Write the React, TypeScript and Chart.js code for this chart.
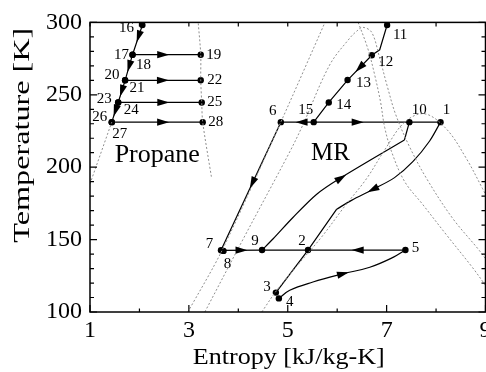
import React, { useEffect, useRef } from 'react';
import { Chart, registerables } from 'chart.js';

Chart.register(...registerables);

const SERIF = '"Liberation Serif", "Times New Roman", serif';

// Mixed-refrigerant (MR) cycle state points: entropy [kJ/kg-K], temperature [K]
const mrStates = ['1', '2', '3', '4', '5', '6', '7', '8', '9', '10', '11', '12', '13', '14', '15'];
const mrEntropy = [8.09, 5.41, 4.76, 4.82, 7.38, 4.86, 3.65, 3.7, 4.48, 7.46, 7.01, 6.7, 6.21, 5.83, 5.525];
const mrTemperature = [231.1, 142.8, 113.4, 109.4, 142.8, 231.1, 142.6, 142.2, 142.8, 231.1, 298.2, 277.3, 260.2, 244.7, 231.1];

// Propane pre-cooling cycle state points
const c3States = ['16', '17', '18', '19', '20', '21', '22', '23', '24', '25', '26', '27', '28'];
const c3Entropy = [2.06, 1.86, 1.86, 3.24, 1.71, 1.71, 3.24, 1.57, 1.57, 3.26, 1.44, 1.44, 3.28];
const c3Temperature = [298.2, 277.7, 277.7, 277.7, 260.0, 260.0, 260.0, 244.7, 244.7, 244.7, 231.1, 231.1, 231.1];

// MR hot stream leaving state 1, down to the bend above state 2
const hotEntropy = [8.09, 7.87, 7.53, 7.16, 6.72, 6.29, 5.99];
const hotTemperature = [231.1, 218.1, 203.8, 192.8, 184.6, 177.1, 171.0];
// MR cold stream from state 9 up to the bend below state 10
const coldEntropy = [4.48, 4.7, 5.1, 5.58, 6.05, 7.36];
const coldTemperature = [142.8, 150.4, 165.1, 181.2, 192.2, 218.8];
// MR return stream, 4 -> 5
const returnEntropy = [4.82, 5.04, 5.51, 6.12, 6.66, 7.13, 7.38];
const returnTemperature = [109.4, 115.0, 120.7, 126.4, 130.9, 137.7, 142.8];
// MR compression with intercooling, 15 -> 14 -> 13 -> 12 -> 11
const compEntropy = [5.525, 5.83, 6.21, 6.7, 6.86, 7.01];
const compTemperature = [231.1, 244.7, 260.2, 277.3, 281.1, 298.2];

// Saturation curves (dotted)
const c3LiquidEntropy = [1.0, 1.44];
const c3LiquidTemperature = [188.5, 231.1];
const c3VaporEntropy = [3.19, 3.24, 3.24, 3.26, 3.28, 3.46];
const c3VaporTemperature = [299.3, 277.7, 260.0, 244.7, 231.1, 192.4];
const mrBubbleHighEntropy = [2.98, 3.667, 4.859, 5.788];
const mrBubbleHighTemperature = [100, 142.3, 231.1, 302.7];
const mrDewHighEntropy = [6.394, 6.616, 6.758, 6.879, 6.96, 7.101, 7.364, 7.727, 8.212, 8.737, 9.0];
const mrDewHighTemperature = [302.7, 282.3, 263.8, 244.7, 227.6, 210.6, 190.1, 174.4, 153.2, 130.7, 118.4];
const mrDomeMidEntropy = [3.323, 4.111, 5.04, 5.303, 5.848, 6.253, 6.394, 6.515, 6.697, 6.859, 7.02, 7.182, 7.465, 7.808, 8.333, 8.879, 9.081];
const mrDomeMidTemperature = [100, 151.2, 210.6, 229.0, 270.6, 289.1, 293.9, 296.6, 293.2, 275.4, 255.0, 236.5, 214.0, 192.2, 164.8, 142.3, 132.8];
const mrDomeLowEntropy = [4.475, 4.778, 5.242, 5.687, 6.152, 6.596, 6.96, 7.364, 7.768, 8.212, 8.616, 8.939, 9.182];
const mrDomeLowTemperature = [100, 115.0, 134.1, 151.9, 173.0, 192.2, 211.9, 231.1, 236.9, 226.3, 205.8, 185.3, 169.6];

type P = [number, number];

const stateMap: Record<string, P> = {};
mrStates.forEach((n, i) => (stateMap[n] = [mrEntropy[i], mrTemperature[i]]));
c3States.forEach((n, i) => (stateMap[n] = [c3Entropy[i], c3Temperature[i]]));

const xy = (s: number[], t: number[]) => s.map((v, i) => ({ x: v, y: t[i] }));
const byStates = (names: string[]) => names.map((n) => ({ x: stateMap[n][0], y: stateMap[n][1] }));

// Straight process lines joining state points
const straightPaths = [
  ['6', '7'],
  ['7', '9', '2', '5'],
  ['6', '15', '10', '1'],
  ['16', '17', '20', '23', '26'],
  ['17', '19'],
  ['20', '22'],
  ['23', '25'],
  ['26', '28'],
];

// Flow-direction arrows
type Arrow = { at: P; from: P; to: P };
const along = (a: string, b: string, t: number): Arrow => {
  const p = stateMap[a];
  const q = stateMap[b];
  return { at: [p[0] + (q[0] - p[0]) * t, p[1] + (q[1] - p[1]) * t], from: p, to: q };
};
const arrows: Arrow[] = [
  along('6', '7', 0.475),
  along('7', '9', 0.5),
  along('5', '2', 0.49),
  along('15', '6', 0.37),
  along('15', '10', 0.46),
  along('12', '13', 0.5),
  along('16', '17', 0.39),
  along('17', '20', 0.45),
  along('20', '23', 0.48),
  along('23', '26', 0.42),
  along('17', '19', 0.45),
  along('20', '22', 0.5),
  along('23', '25', 0.54),
  along('26', '28', 0.565),
  { at: [6.08, 192.6], from: [5.58, 181.2], to: [7.36, 218.8] },
  { at: [6.72, 184.6], from: [7.16, 192.8], to: [6.29, 177.1] },
  { at: [6.12, 126.4], from: [5.51, 120.7], to: [6.66, 130.9] },
];

// State-number label offsets from their marker, in pixels
const labelOffsets: Record<string, P> = {
  '1': [6, -12], '2': [-6, -9], '3': [-9, -6], '4': [11, 4], '5': [10, -2],
  '6': [-8, -11], '7': [-11.5, -6.5], '8': [4, 13], '9': [-7, -9], '10': [10, -12],
  '11': [13, 10], '12': [14, 7], '13': [16, 3], '14': [15, 3], '15': [-8, -12],
  '16': [-16, 3], '17': [-11, 0], '18': [11, 10], '19': [13, 0], '20': [-13, -5],
  '21': [12, 8], '22': [14, 0], '23': [-14, -3], '24': [13, 8], '25': [13, 0],
  '26': [-12, -5], '27': [8, 12], '28': [13, 0],
};

const solid = (data: { x: number; y: number }[], tension = 0) => ({
  data,
  showLine: true,
  borderColor: '#000',
  borderWidth: 1.2,
  pointRadius: 0,
  tension,
  fill: false,
});

const dotted = (data: { x: number; y: number }[], tension = 0.35) => ({
  data,
  showLine: true,
  borderColor: '#8f8f8f',
  borderWidth: 1,
  borderDash: [2, 2],
  pointRadius: 0,
  tension,
  fill: false,
});

const decor = {
  id: 'decor',
  afterDatasetsDraw(chart: any) {
    const ctx: CanvasRenderingContext2D = chart.ctx;
    const xs = chart.scales.x;
    const ys = chart.scales.y;
    const px = (s: number) => xs.getPixelForValue(s);
    const py = (t: number) => ys.getPixelForValue(t);
    ctx.save();

    // arrows
    ctx.fillStyle = '#000';
    for (const a of arrows) {
      const cx = px(a.at[0]);
      const cy = py(a.at[1]);
      let dx = px(a.to[0]) - px(a.from[0]);
      let dy = py(a.to[1]) - py(a.from[1]);
      const len = Math.hypot(dx, dy);
      dx /= len;
      dy /= len;
      const L = 12;
      const W = 3.6;
      ctx.beginPath();
      ctx.moveTo(cx + (dx * L) / 2, cy + (dy * L) / 2);
      ctx.lineTo(cx - (dx * L) / 2 - dy * W, cy - (dy * L) / 2 + dx * W);
      ctx.lineTo(cx - (dx * L) / 2 + dy * W, cy - (dy * L) / 2 - dx * W);
      ctx.closePath();
      ctx.fill();
    }

    // state numbers
    ctx.font = `15px ${SERIF}`;
    ctx.textAlign = 'center';
    ctx.textBaseline = 'middle';
    Object.keys(labelOffsets).forEach((n) => {
      const p = stateMap[n];
      const o = labelOffsets[n];
      ctx.fillText(n, px(p[0]) + o[0], py(p[1]) + o[1]);
    });

    // region names
    ctx.textBaseline = 'alphabetic';
    ctx.font = `26px ${SERIF}`;
    ctx.fillText('Propane', px(2.36), py(203.8));
    ctx.font = `25px ${SERIF}`;
    ctx.fillText('MR', px(5.865), py(204.9));

    // frame and inward ticks
    const { left, right, top, bottom } = chart.chartArea;
    ctx.strokeStyle = '#000';
    ctx.lineWidth = 1.2;
    ctx.beginPath();
    for (let v = 1; v <= 9; v++) {
      const x = px(v);
      const major = v % 2 === 1;
      ctx.moveTo(x, bottom);
      ctx.lineTo(x, bottom - (major ? 7 : 3.5));
      ctx.moveTo(x, top);
      ctx.lineTo(x, top + 4);
    }
    for (let v = 100; v <= 300; v += 10) {
      const y = py(v);
      const major = v % 50 === 0;
      ctx.moveTo(left, y);
      ctx.lineTo(left + (major ? 7 : 4), y);
      ctx.moveTo(right, y);
      ctx.lineTo(right - (major ? 7 : 4), y);
    }
    ctx.stroke();
    ctx.lineWidth = 1.5;
    ctx.strokeRect(left, top, right - left, bottom - top);
    ctx.restore();
  },
  afterDraw(chart: any) {
    const ctx: CanvasRenderingContext2D = chart.ctx;
    const { left, right, top, bottom } = chart.chartArea;
    ctx.save();
    ctx.fillStyle = '#000';
    ctx.font = `23px ${SERIF}`;
    ctx.textAlign = 'center';
    ctx.textBaseline = 'alphabetic';

    const xTitle = 'Entropy [kJ/kg-K]';
    const xw = ctx.measureText(xTitle).width;
    ctx.save();
    ctx.translate((left + right) / 2 + 1, bottom + 51.5);
    ctx.scale(192 / xw, 1);
    ctx.fillText(xTitle, 0, 0);
    ctx.restore();

    const yTitle = 'Temperature [K]';
    const yw = ctx.measureText(yTitle).width;
    ctx.save();
    ctx.translate(28.5, (top + bottom) / 2 - 32);
    ctx.rotate(-Math.PI / 2);
    ctx.scale(215 / yw, 1);
    ctx.fillText(yTitle, 0, 0);
    ctx.restore();
    ctx.restore();
  },
};

export default function App() {
  const ref = useRef<HTMLCanvasElement>(null);

  useEffect(() => {
    const canvas = ref.current;
    if (!canvas) return;

    const datasets: any[] = [
      dotted(xy(c3LiquidEntropy, c3LiquidTemperature), 0),
      dotted(xy(c3VaporEntropy, c3VaporTemperature), 0.3),
      dotted(xy(mrBubbleHighEntropy, mrBubbleHighTemperature), 0.3),
      dotted(xy(mrDewHighEntropy, mrDewHighTemperature), 0.35),
      dotted(xy(mrDomeMidEntropy, mrDomeMidTemperature), 0.35),
      dotted(xy(mrDomeLowEntropy, mrDomeLowTemperature), 0.35),
      ...straightPaths.map((p) => solid(byStates(p))),
      solid(xy(compEntropy, compTemperature)),
      solid(xy(hotEntropy, hotTemperature), 0.3),
      solid([{ x: hotEntropy[hotEntropy.length - 1], y: hotTemperature[hotTemperature.length - 1] }, ...byStates(['2', '3'])]),
      solid(xy(coldEntropy, coldTemperature), 0.3),
      solid([{ x: coldEntropy[coldEntropy.length - 1], y: coldTemperature[coldTemperature.length - 1] }, ...byStates(['10'])]),
      solid(xy(returnEntropy, returnTemperature), 0.4),
      {
        data: [...xy(mrEntropy, mrTemperature), ...xy(c3Entropy, c3Temperature)],
        showLine: false,
        pointRadius: 3.2,
        pointBackgroundColor: '#000',
        pointBorderWidth: 0,
      },
    ];

    const chart = new Chart(canvas, {
      type: 'scatter',
      data: { datasets },
      options: {
        animation: false,
        responsive: false,
        devicePixelRatio: 1,
        events: [],
        layout: { padding: { left: 0, right: 34.5, top: 19, bottom: 0 } },
        plugins: { legend: { display: false }, tooltip: { enabled: false } },
        scales: {
          x: {
            type: 'linear',
            min: 1,
            max: 9,
            grid: { display: false, drawTicks: false },
            border: { display: false },
            ticks: {
              stepSize: 2,
              autoSkip: false,
              maxRotation: 0,
              padding: 4,
              color: '#000',
              font: { family: SERIF, size: 24 },
            },
            afterFit: (s: any) => {
              s.height = 60;
            },
          },
          y: {
            type: 'linear',
            min: 100,
            max: 300,
            grid: { display: false, drawTicks: false },
            border: { display: false },
            ticks: {
              stepSize: 50,
              padding: 8,
              color: '#000',
              font: { family: SERIF, size: 24 },
            },
            afterFit: (s: any) => {
              s.width = 90;
            },
          },
        },
      } as any,
      plugins: [decor],
    });

    return () => chart.destroy();
  }, []);

  return (
    <div
      style={{
        position: 'fixed',
        left: 0,
        top: 0,
        width: 486,
        height: 372,
        overflow: 'hidden',
        background: '#fff',
      }}
    >
      <canvas ref={ref} width={520} height={372} style={{ display: 'block' }} />
    </div>
  );
}
